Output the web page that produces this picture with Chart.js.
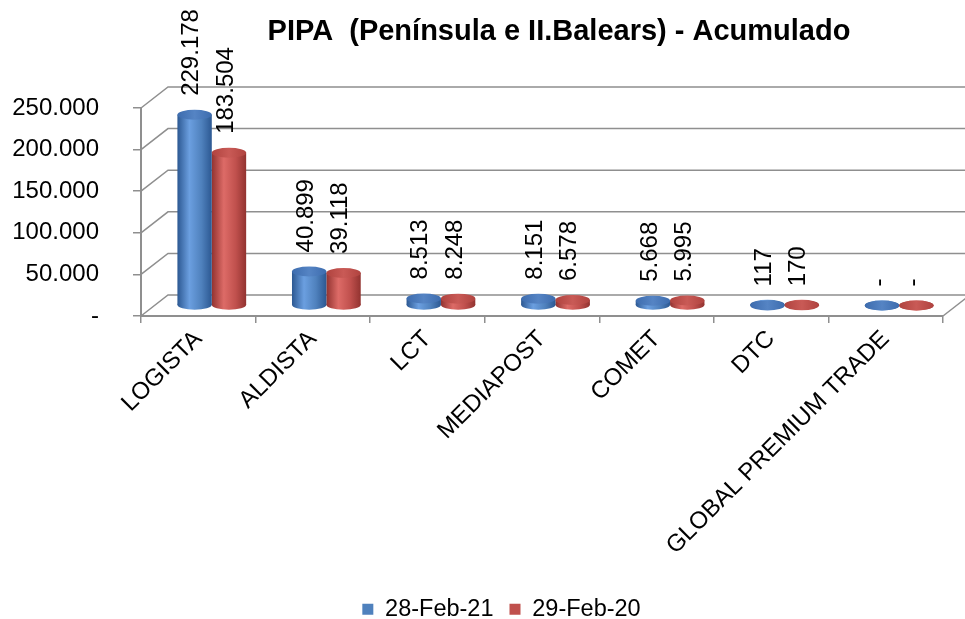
<!DOCTYPE html>
<html lang="es">
<head>
<meta charset="utf-8">
<title>PIPA - Acumulado</title>
<script src="https://cdn.jsdelivr.net/npm/chart.js@4.4.1/dist/chart.umd.min.js"></script>
<style>
  html, body { margin: 0; padding: 0; background: #fff; }
  #wrap { width: 965px; height: 619px; }
</style>
</head>
<body>
<div id="wrap"><canvas id="pipaChart"></canvas></div>
<script>
// Datos del grafico
const categorias = ['LOGISTA', 'ALDISTA', 'LCT', 'MEDIAPOST', 'COMET', 'DTC', 'GLOBAL PREMIUM TRADE'];
const series = ['28-Feb-21', '29-Feb-20'];
const valores2021 = [229178, 40899, 8513, 8151, 5668, 117, 0];
const valores2020 = [183504, 39118, 8248, 6578, 5995, 170, 0];
const yTicks = [0, 50000, 100000, 150000, 200000, 250000];

// profundidad del "3D" (pared del fondo)
const PROF_X = 27;
const PROF_Y = -21;

const estilos = [
    { base: '#4f81bd', borde: '#2c5892', luz: '#6b9fe0', tapa: '#3d6cae', tapaLuz: '#5584c4' },
    { base: '#c0504d', borde: '#923330', luz: '#dd6b67', tapa: '#b0433f', tapaLuz: '#c95a56' }
];

Chart.defaults.font.family = "'Liberation Sans', Arial, sans-serif";
Chart.defaults.color = '#000';

function fmt(v) {
    if (v === 0) return '-';
    return String(v).replace(/\B(?=(\d{3})+(?!\d))/g, '.');
}

function degradado(ctx, left, w, e) {
    const g = ctx.createLinearGradient(left, 0, left + w, 0);
    g.addColorStop(0, e.borde);
    g.addColorStop(0.35, e.luz);
    g.addColorStop(0.7, e.base);
    g.addColorStop(1, e.borde);
    return g;
}

function elipse(ctx, x, y, rx, ry, fill) {
    ctx.beginPath();
    ctx.ellipse(x, y, rx, ry, 0, 0, Math.PI * 2);
    ctx.fillStyle = fill;
    ctx.fill();
}

// Paredes, cilindros y etiquetas
const cilindros = {
    id: 'cilindros',
    afterLayout(chart) {
        // la leyenda del original esta algo desplazada a la derecha y abajo
        const l = chart.legend;
        l.left += 30; l.right += 30;
        l.top += 12; l.bottom += 12;
    },
    beforeDatasetsDraw(chart) {
        const ctx = chart.ctx;
        const a = chart.chartArea;
        const y = chart.scales.y;

        ctx.save();
        ctx.strokeStyle = '#8f8f8f';
        ctx.lineWidth = 1.5;
        yTicks.forEach(v => {
            const py = y.getPixelForValue(v);
            ctx.beginPath();
            ctx.moveTo(a.left, py);
            ctx.lineTo(a.left + PROF_X, py + PROF_Y);
            ctx.lineTo(a.right + PROF_X, py + PROF_Y);
            ctx.stroke();
        });
        ctx.beginPath();
        ctx.moveTo(a.right, a.bottom);
        ctx.lineTo(a.right + PROF_X, a.bottom + PROF_Y);
        ctx.stroke();
        ctx.restore();

        // barras a media profundidad (restore en afterDatasetsDraw)
        ctx.save();
        ctx.translate(PROF_X / 2, PROF_Y / 2);
        chart.data.datasets.forEach((ds, i) => {
            chart.getDatasetMeta(i).data.forEach(el => {
                const g = degradado(ctx, el.x - el.width / 2, el.width, estilos[i]);
                elipse(ctx, el.x, el.base, el.width / 2, 5, g);
            });
        });
    },
    beforeDatasetDraw(chart, args) {
        const e = estilos[args.index];
        args.meta.data.forEach(el => {
            el.options = Object.assign({}, el.options, {
                backgroundColor: degradado(chart.ctx, el.x - el.width / 2, el.width, e)
            });
        });
    },
    afterDatasetsDraw(chart) {
        const ctx = chart.ctx;
        chart.data.datasets.forEach((ds, i) => {
            const e = estilos[i];
            chart.getDatasetMeta(i).data.forEach(el => {
                const g = ctx.createLinearGradient(el.x - el.width / 2, 0, el.x + el.width / 2, 0);
                g.addColorStop(0, e.tapa);
                g.addColorStop(0.5, e.tapaLuz);
                g.addColorStop(1, e.tapa);
                elipse(ctx, el.x, el.y, el.width / 2, 5, g);
            });
        });
        ctx.restore();

        // etiquetas de valor verticales
        ctx.save();
        ctx.fillStyle = '#000';
        ctx.font = "24px 'Liberation Sans', Arial, sans-serif";
        ctx.textAlign = 'left';
        ctx.textBaseline = 'middle';
        chart.data.datasets.forEach((ds, i) => {
            chart.getDatasetMeta(i).data.forEach((el, j) => {
                ctx.save();
                ctx.translate(el.x + PROF_X / 2 - 3, el.y + PROF_Y / 2 - 19);
                ctx.rotate(-Math.PI / 2);
                ctx.fillText(fmt(ds.data[j]), 0, 0);
                ctx.restore();
            });
        });
        ctx.restore();
    },
    afterDraw(chart) {
        const ctx = chart.ctx;
        ctx.save();
        ctx.fillStyle = '#000';
        ctx.font = "bold 29px 'Liberation Sans', Arial, sans-serif";
        ctx.textAlign = 'center';
        ctx.textBaseline = 'alphabetic';
        ctx.fillText('PIPA  (Península e II.Balears) - Acumulado', 559, 40);
        ctx.restore();
    }
};

const ctxPipa = document.getElementById('pipaChart').getContext('2d');
const pipaChart = new Chart(ctxPipa, {
    type: 'bar',
    data: {
        labels: categorias,
        datasets: [
            { label: series[0], data: valores2021, backgroundColor: estilos[0].base, borderWidth: 0 },
            { label: series[1], data: valores2020, backgroundColor: estilos[1].base, borderWidth: 0 }
        ]
    },
    options: {
        responsive: true,
        maintainAspectRatio: false,
        animation: false,
        categoryPercentage: 0.6,
        barPercentage: 1,
        layout: { padding: { top: 108, left: 0, right: 22, bottom: 0 } },
        plugins: {
            legend: {
                position: 'bottom',
                labels: { boxWidth: 11, boxHeight: 11, padding: 16, font: { size: 23.5 }, color: '#000' }
            },
            title: { display: false },
            tooltip: { enabled: false }
        },
        scales: {
            x: {
                afterFit: s => { s.height = s.chart.height - 316 - (s.chart.legend ? s.chart.legend.height : 50); },
                grid: { drawOnChartArea: false, offset: true, tickLength: 7, color: '#8f8f8f', lineWidth: 1.5 },
                border: { color: '#8f8f8f', width: 2 },
                ticks: { minRotation: 45, maxRotation: 45, autoSkip: false, padding: 2, font: { size: 24 }, color: '#000' }
            },
            y: {
                min: 0,
                max: 250000,
                afterBuildTicks: s => { s.ticks = yTicks.map(v => ({ value: v })); },
                afterFit: s => { s.width = 141; },
                grid: { drawOnChartArea: false, tickLength: 8, color: '#8f8f8f', lineWidth: 1.5 },
                border: { color: '#8f8f8f', width: 2 },
                ticks: { padding: 34, font: { size: 24 }, color: '#000', callback: v => fmt(v) }
            }
        }
    },
    plugins: [cilindros]
});
</script>
</body>
</html>
